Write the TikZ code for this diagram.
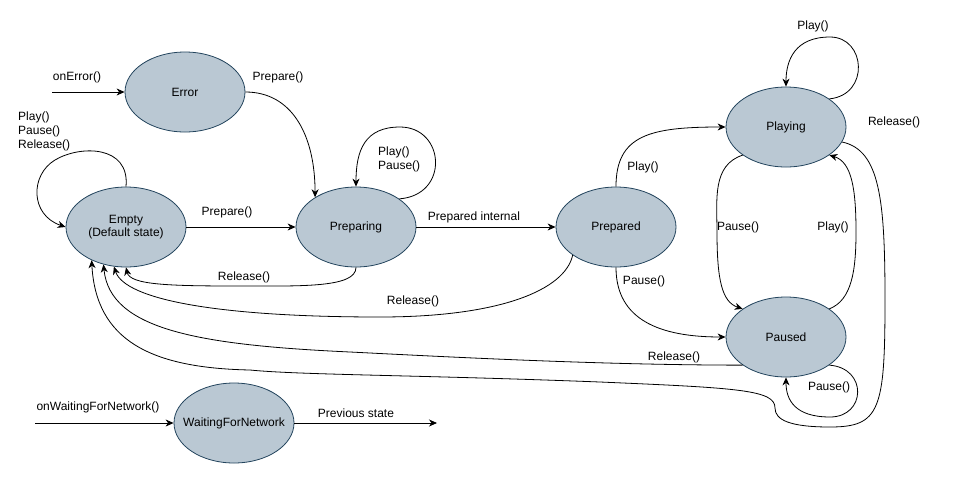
\documentclass[tikz,border=0pt]{standalone}
\usepackage{fontspec}
\setmainfont{Liberation Sans}
\usetikzlibrary{arrows.meta, shapes.geometric}
\definecolor{statefill}{HTML}{BAC8D3}
\definecolor{stateline}{HTML}{23445D}
\tikzset{state/.style={ellipse,draw=stateline,fill=statefill,line width=0.8pt,minimum width=120pt,minimum height=80pt,inner sep=0pt,align=center,font=\fontsize{12}{13.5}\selectfont},lbl/.style={inner sep=0pt,align=left,font=\fontsize{12}{14}\selectfont},line/.style={-{Stealth[length=8pt,width=7pt,inset=2.5pt]},line width=0.8pt}}
\begin{document}
\begin{tikzpicture}[x=1pt,y=-1pt]
\useasboundingbox (0,0) rectangle (953,480);
\node[state] (err) at (185,92) {Error};
\node[state] (empty) at (126,227) {Empty\\(Default state)};
\node[state] (preparing) at (356,227) {Preparing};
\node[state] (prepared) at (616,227) {Prepared};
\node[state] (playing) at (786,127) {Playing};
\node[state] (paused) at (786,337) {Paused};
\node[state] (waiting) at (234,423) {\makebox[60pt]{WaitingForNetwork}};
\coordinate (errin) at (52,92);
\coordinate (waitin) at (35,423);
\coordinate (waitout) at (437,423);
\draw[line] (errin) -- (err.west);
\draw[line] (err.east) .. controls (292,92) and (315,135) .. (preparing.144);
\draw[line] (empty.north) .. controls (130,145) and (80,145) .. (55,160) .. controls (30,175) and (30,215) .. (empty.west);
\draw[line] (empty.east) -- (preparing.west);
\draw[line] (preparing.33) .. controls (450,195) and (445,127) .. (400,127) .. controls (365,127) and (356,150) .. (preparing.north);
\draw[line] (preparing.east) -- (prepared.west);
\draw[line] (preparing.south) .. controls (356,288) and (300,286) .. (240,286) .. controls (170,286) and (130,285) .. (empty.south);
\draw[line] (prepared.213) .. controls (565,290) and (500,317) .. (380,317) .. controls (220,317) and (125,300) .. (empty.253);
\draw[line] (prepared.north) .. controls (616,135) and (650,127) .. (playing.west);
\draw[line] (prepared.south) .. controls (616,320) and (660,337) .. (paused.west);
\draw[line] (playing.33) .. controls (870,95) and (866,37) .. (830,37) .. controls (795,37) and (786,60) .. (playing.north);
\draw[line] (playing.213) .. controls (712,165) and (717,200) .. (717,232) .. controls (717,280) and (722,302) .. (paused.147);
\draw[line] (paused.33) .. controls (852,300) and (856,270) .. (856,232) .. controls (856,190) and (852,162) .. (playing.327);
\draw[line] (paused.327) .. controls (868,368) and (866,417) .. (830,417) .. controls (795,417) and (786,400) .. (paused.south);
\draw[line] (paused.213) .. controls (600,365) and (450,357) .. (350,352) .. controls (200,345) and (110,330) .. (empty.239);
\draw[line] (playing.345) .. controls (880,150) and (885,200) .. (885,300) .. controls (885,410) and (880,427) .. (830,427) .. controls (790,427) and (775,420) .. (775,408) .. controls (775,390) and (740,388) .. (600,382) .. controls (420,375) and (300,375) .. (250,370) .. controls (150,368) and (96,340) .. (empty.224);
\draw[line] (waitin) -- (waiting.west);
\draw[line] (waiting.east) -- (waitout);
\node[lbl] (l1) at (77,77) {onError()};
\node[lbl] (l2) at (278,77) {Prepare()};
\node[lbl, anchor=west] (l3) at (18,131) {Play()\\Pause()\\Release()};
\node[lbl] (l4) at (227,212) {Prepare()};
\node[lbl] (l5) at (244,277) {Release()};
\node[lbl, anchor=west] (l6) at (378,159) {Play()\\Pause()};
\node[lbl] (l7) at (474,217) {Prepared internal};
\node[lbl] (l8) at (413,301) {Release()};
\node[lbl] (l9) at (644,281) {Pause()};
\node[lbl] (l10) at (674,357) {Release()};
\node[lbl] (l11) at (643,167) {Play()};
\node[lbl] (l12) at (813,26) {Play()};
\node[lbl] (l13) at (894,122) {Release()};
\node[lbl] (l14) at (738,227) {Pause()};
\node[lbl] (l15) at (833,227) {Play()};
\node[lbl] (l16) at (829,387) {Pause()};
\node[lbl] (l17) at (98,407) {onWaitingForNetwork()};
\node[lbl] (l18) at (356,413) {Previous state};
\end{tikzpicture}
\end{document}
